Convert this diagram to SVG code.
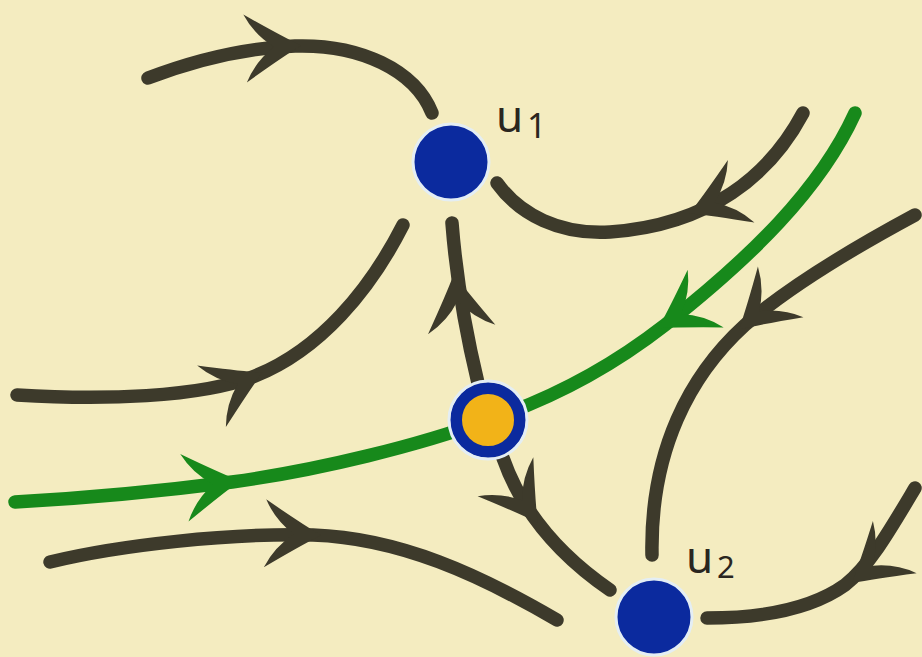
<svg xmlns="http://www.w3.org/2000/svg" width="922" height="657" viewBox="0 0 922 657">
  <defs>
    <style>
      .flow { fill: none; stroke: #3d3a2b; stroke-width: 13.5; stroke-linecap: round; }
      .sep { fill: none; stroke: #17891b; stroke-width: 13.5; stroke-linecap: round; }
      .head { fill: #3d3a2b; }
      .head-g { fill: #17891b; }
      .sink { fill: #0b2a9e; stroke: #e4eef4; stroke-width: 3; }
      .ring { fill: #f2b318; stroke: #0b2a9e; stroke-width: 12; }
      .halo { fill: none; stroke: #e4eef4; stroke-width: 3; }
      .lbl { font-family: "Noto Sans", "DejaVu Sans", sans-serif; font-size: 44px; fill: #2a2620; }
    </style>
    <!-- swept arrowhead, tip at the origin pointing along +x -->
    <path id="arrow" d="M8,0 Q-12,-11 -48,-34 Q-38,-13 -19,0 Q-38,13 -48,34 Q-12,11 8,0 Z"/>
  </defs>

  <rect width="922" height="657" fill="#f4ecc0"/>

  <g id="connectors">
    <!-- trajectories -->
    <path class="flow" d="M148,78 C190,62 240,48 295,46 C360,44 415,70 432,113"/>
    <path class="flow" d="M803,113 C770,175 710,225 610,232 C560,235 520,215 497,183"/>
    <path class="flow" d="M478,383 Q458,300 452,223"/>
    <path class="flow" d="M17,395 C100,400 200,398 255,376 C320,350 370,290 403,225"/>
    <path class="flow" d="M503,458 Q530,535 610,590"/>
    <path class="flow" d="M50,562 C120,545 230,533 313,535 C400,538 480,575 557,620"/>
    <path class="flow" d="M915,215 C850,250 785,290 745,325 C690,375 650,450 652,555"/>
    <path class="flow" d="M915,488 C890,530 870,565 845,585 C810,610 760,618 707,618"/>
    <!-- separatrix -->
    <path class="sep" d="M15,502 C90,498 170,490 232,482 C320,470 420,445 488,420 C560,396 620,360 665,325 C750,258 820,190 855,113"/>

    <!-- direction arrows -->
    <use href="#arrow" class="head" transform="translate(293,46) rotate(-3)"/>
    <use href="#arrow" class="head" transform="translate(697,210) rotate(157)"/>
    <use href="#arrow" class="head" transform="translate(455,282) rotate(-98)"/>
    <use href="#arrow" class="head" transform="translate(255,376) rotate(-25)"/>
    <use href="#arrow" class="head" transform="translate(533,516) rotate(55)"/>
    <use href="#arrow" class="head" transform="translate(313,535) rotate(2)"/>
    <use href="#arrow" class="head" transform="translate(745,324) rotate(138)"/>
    <use href="#arrow" class="head" transform="translate(858,578) rotate(140)"/>
    <use href="#arrow" class="head-g" transform="translate(232,482) rotate(-7)"/>
    <use href="#arrow" class="head-g" transform="translate(665,324) rotate(148)"/>
  </g>

  <g id="u1">
    <circle class="sink" cx="451" cy="162" r="38"/>
    <text class="lbl" x="496" y="132">u<tspan x="527" dy="6" font-size="34">1</tspan></text>
  </g>

  <g id="saddle">
    <circle class="ring" cx="488" cy="420" r="32"/>
    <circle class="halo" cx="488" cy="420" r="39"/>
  </g>

  <g id="u2">
    <circle class="sink" cx="654" cy="617" r="38"/>
    <text class="lbl" x="686" y="573">u<tspan x="717" dy="5" font-size="31">2</tspan></text>
  </g>
</svg>
